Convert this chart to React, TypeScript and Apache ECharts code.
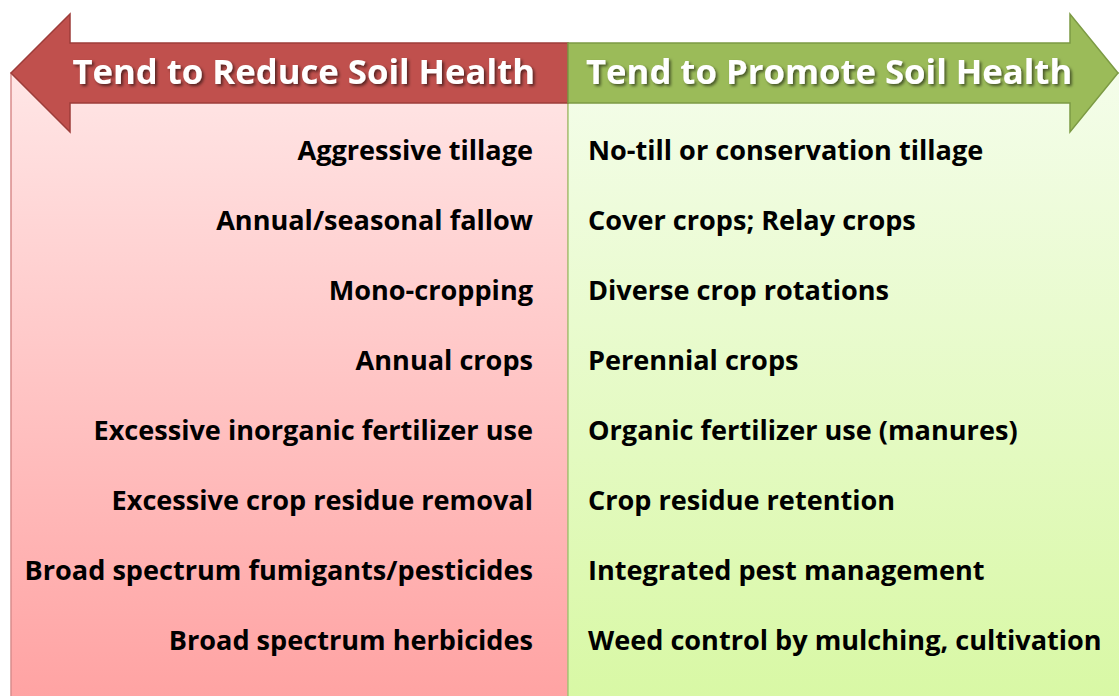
import React, { useEffect, useRef } from "react";
import * as echarts from "echarts";

const headers = ["Tend to Reduce Soil Health", "Tend to Promote Soil Health"];
const reduceItems = [
  "Aggressive tillage",
  "Annual/seasonal fallow",
  "Mono-cropping",
  "Annual crops",
  "Excessive inorganic fertilizer use",
  "Excessive crop residue removal",
  "Broad spectrum fumigants/pesticides",
  "Broad spectrum herbicides",
];
const promoteItems = [
  "No-till or conservation tillage",
  "Cover crops; Relay crops",
  "Diverse crop rotations",
  "Perennial crops",
  "Organic fertilizer use (manures)",
  "Crop residue retention",
  "Integrated pest management",
  "Weed control by mulching, cultivation",
];

const W = 1119;
const H = 696;

export default function App() {
  const ref = useRef<HTMLDivElement>(null);
  useEffect(() => {
    document.body.style.margin = "0";
    if (!ref.current) return;
    const chart = echarts.init(ref.current, null, { renderer: "svg" });
    const midX = 568;
    const leftX = 11;
    const boxTop = 103;
    const shaftTop = 43;
    const headTop = 14;
    const headBot = 132;
    const tipY = 73;
    const itemFont = 'bold 27.1px "Open Sans", sans-serif';
    const headFont = 'bold 34.7px "Open Sans", sans-serif';
    const rowY = (i: number) => 149 + i * 70;

    const elements: any[] = [
      {
        type: "rect",
        shape: { x: leftX, y: tipY, width: midX - leftX, height: H - tipY + 10 },
        style: {
          fill: new echarts.graphic.LinearGradient(0, 0, 0, 1, [
            { offset: 0, color: "#ffe6e6" },
            { offset: 1, color: "#ffa2a2" },
          ]),
          stroke: "#d98c8c",
          lineWidth: 1.5,
        },
      },
      {
        type: "rect",
        shape: { x: midX, y: tipY, width: W - midX + 10, height: H - tipY + 10 },
        style: {
          fill: new echarts.graphic.LinearGradient(0, 0, 0, 1, [
            { offset: 0, color: "#f4fdea" },
            { offset: 1, color: "#d8f8a4" },
          ]),
          stroke: "#a8c878",
          lineWidth: 1.5,
        },
      },
      {
        type: "polygon",
        shape: {
          points: [
            [leftX, tipY],
            [70, headTop],
            [70, shaftTop],
            [midX, shaftTop],
            [midX, boxTop],
            [70, boxTop],
            [70, headBot],
          ],
        },
        style: { fill: "#c0504d", stroke: "#9d3d3a", lineWidth: 1.5 },
      },
      {
        type: "polygon",
        shape: {
          points: [
            [midX, shaftTop],
            [1070, shaftTop],
            [1070, headTop],
            [1118, tipY],
            [1070, headBot],
            [1070, boxTop],
            [midX, boxTop],
          ],
        },
        style: { fill: "#9bbb59", stroke: "#7c9a44", lineWidth: 1.5 },
      },
      {
        type: "text",
        x: 535,
        y: 70,
        style: {
          text: headers[0],
          font: headFont,
          fill: "#ffffff",
          align: "right",
          verticalAlign: "middle",
          textShadowColor: "rgba(0,0,0,0.55)",
          textShadowBlur: 3,
          textShadowOffsetX: 2,
          textShadowOffsetY: 2,
        },
      },
      {
        type: "text",
        x: 586,
        y: 70,
        style: {
          text: headers[1],
          font: headFont,
          fill: "#ffffff",
          align: "left",
          verticalAlign: "middle",
          textShadowColor: "rgba(0,0,0,0.55)",
          textShadowBlur: 3,
          textShadowOffsetX: 2,
          textShadowOffsetY: 2,
        },
      },
    ];
    reduceItems.forEach((t, i) => {
      elements.push({
        type: "text",
        x: 533,
        y: rowY(i),
        style: { text: t, font: itemFont, fill: "#000000", align: "right", verticalAlign: "middle" },
      });
    });
    promoteItems.forEach((t, i) => {
      elements.push({
        type: "text",
        x: 588,
        y: rowY(i),
        style: { text: t, font: itemFont, fill: "#000000", align: "left", verticalAlign: "middle" },
      });
    });

    chart.setOption({
      animation: false,
      backgroundColor: "#ffffff",
      graphic: { elements },
    });
    return () => chart.dispose();
  }, []);
  return <div ref={ref} style={{ width: W, height: H }} />;
}
